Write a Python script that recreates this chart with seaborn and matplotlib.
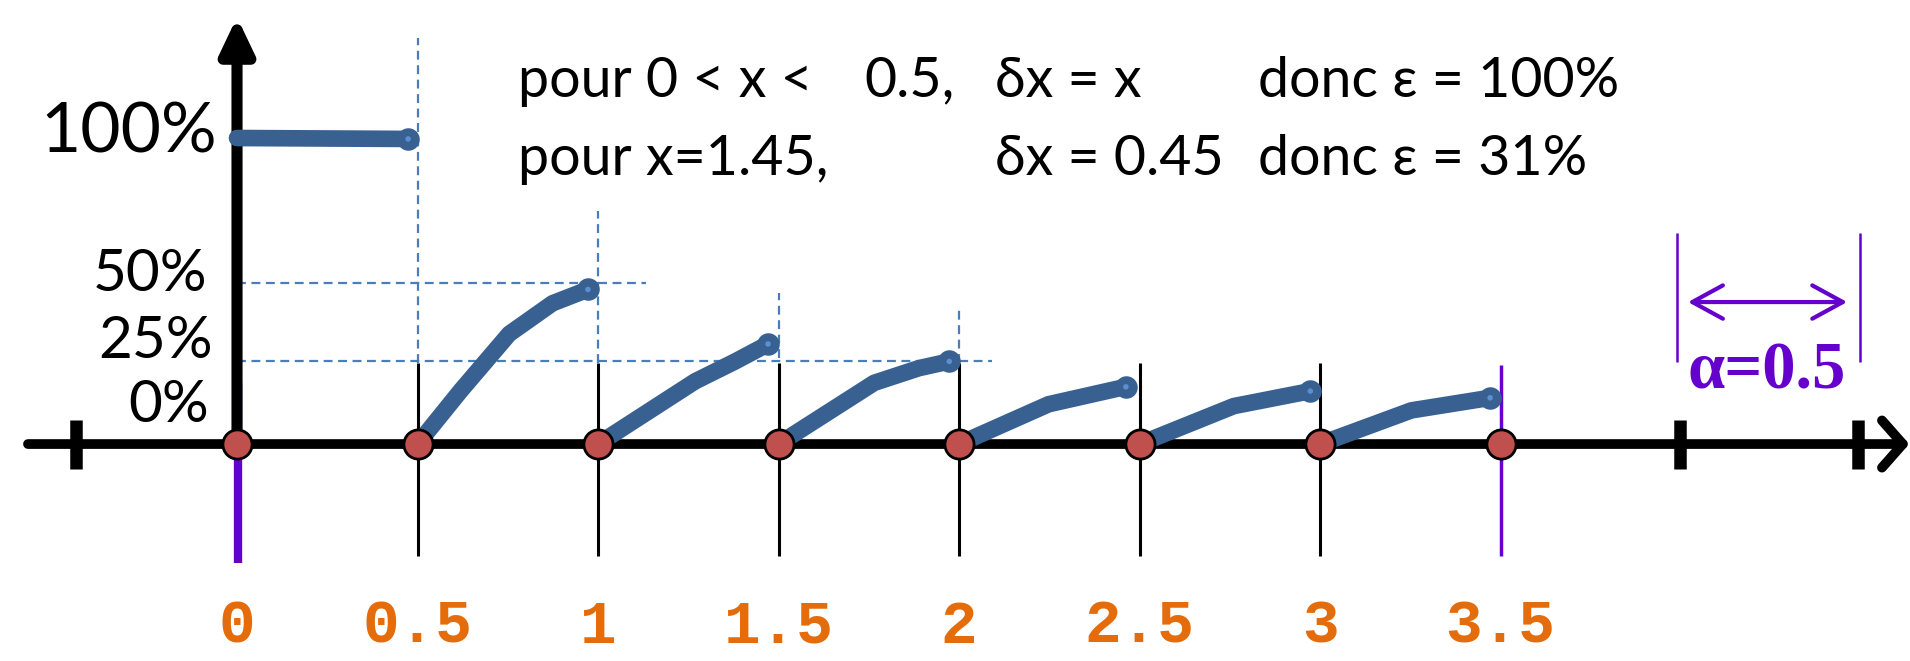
import numpy as np
import pandas as pd
import matplotlib
matplotlib.use("Agg")
import matplotlib.pyplot as plt
import seaborn as sns

# ---------------- data ----------------
point_x = [0, 0.5, 1, 1.5, 2, 2.5, 3, 3.5]
point_labels = ["0", "0.5", "1", "1.5", "2", "2.5", "3", "3.5"]

curve0_x = [0.0, 0.474]
curve0_y = [1.0, 0.997]
curve1_x = [0.5, 0.62, 0.754, 0.874, 0.972]
curve1_y = [0.0, 0.175, 0.36, 0.46, 0.505]
curve2_x = [1.0, 1.269, 1.38, 1.471]
curve2_y = [0.0, 0.205, 0.27, 0.327]
curve3_x = [1.5, 1.765, 1.889, 1.973]
curve3_y = [0.0, 0.20, 0.248, 0.27]
curve4_x = [2.0, 2.248, 2.462]
curve4_y = [0.0, 0.13, 0.187]
curve5_x = [2.5, 2.761, 2.973]
curve5_y = [0.0, 0.124, 0.173]
curve6_x = [3.0, 3.253, 3.471]
curve6_y = [0.0, 0.11, 0.151]

pct_labels = ["100%", "50%", "25%", "0%"]
pct_baselines = [0.954, 0.50, 0.281, 0.072]

guide_h_levels = [0.525, 0.272]
guide_h_ends = [1.133, 2.09]
guide_v_x = [0.5, 1.0, 1.5, 2.0]
guide_v_top = [1.327, 0.761, 0.493, 0.448]
guide_v_bottom = [0.265, 0.265, 0.28, 0.265]

line1_texts = ["pour 0 < x <", "0.5,", "δx = x", "donc ε = 100%"]
line2_texts = ["pour x=1.45,", "δx = 0.45", "donc ε = 31%"]
alpha_label = "α=0.5"

# ---------------- style ----------------
sns.set_style("white")
plt.rcParams["font.family"] = ["Lato", "DejaVu Sans"]

BLUE = "#386192"
DASH = "#4a7ebb"
RED = "#C0504D"
PURPLE = "#6600CC"
ORANGE = "#E46C0A"

fig = plt.figure(figsize=(19.10, 6.61), dpi=100)
ax = fig.add_axes([0, 0, 1, 1])
ax.set_xlim(-0.6565, 4.634)
ax.set_ylim(-0.709, 1.451)
ax.axis("off")

# dashed guide lines
for lvl, end in zip(guide_h_levels, guide_h_ends):
    ax.hlines(lvl, 0.0, end, color=DASH, lw=1.6, linestyle=(0, (4, 2.5)), zorder=1)
for gx, gt, gb in zip(guide_v_x, guide_v_top, guide_v_bottom):
    ax.vlines(gx, gb, gt, color=DASH, lw=1.6, linestyle=(0, (4, 2.5)), zorder=1)

# black thin verticals at grid points
ax.vlines(point_x[1:-1], -0.366, 0.265, color="black", lw=2.2, zorder=2)
# purple bounds
ax.vlines(point_x[0] + 0.004, -0.389, 0.2, color=PURPLE, lw=6, zorder=2)
ax.vlines(point_x[-1], -0.366, 0.258, color=PURPLE, lw=2.5, zorder=2)

# x axis with open arrow
ax.annotate("", xy=(4.632, 0), xytext=(-0.579, 0),
            arrowprops=dict(arrowstyle="->,head_length=1.5,head_width=1.7",
                            lw=7, color="black", shrinkA=0, shrinkB=0,
                            mutation_scale=10, capstyle="round", joinstyle="round"),
            zorder=3)
# cross ticks on x axis
for tx in [-0.446, 3.997, 4.49]:
    ax.vlines(tx, -0.08, 0.08, color="black", lw=9, zorder=3)

# y axis with filled arrow
ax.annotate("", xy=(0, 1.395), xytext=(0, 0),
            arrowprops=dict(arrowstyle="-|>,head_length=2.1,head_width=1.0",
                            lw=8, color="black", shrinkA=0, shrinkB=0,
                            mutation_scale=10),
            zorder=3)

# blue curves
curves = [(curve0_x, curve0_y), (curve1_x, curve1_y), (curve2_x, curve2_y),
          (curve3_x, curve3_y), (curve4_x, curve4_y), (curve5_x, curve5_y),
          (curve6_x, curve6_y)]
df = pd.concat([pd.DataFrame({"x": cx, "y": cy, "seg": i})
                for i, (cx, cy) in enumerate(curves)], ignore_index=True)
sns.lineplot(data=df, x="x", y="y", units="seg", estimator=None, sort=False,
             color=BLUE, lw=12, solid_capstyle="round", solid_joinstyle="round",
             ax=ax, legend=False, zorder=4)
ends = df.groupby("seg").last()
sns.scatterplot(x=ends["x"], y=ends["y"], s=15 ** 2, color=BLUE, edgecolor=BLUE,
                ax=ax, legend=False, zorder=5)
sns.scatterplot(x=ends["x"], y=ends["y"], s=4 ** 2, color="#5b8fd0", edgecolor="none",
                ax=ax, legend=False, zorder=5)

# red points
sns.scatterplot(x=point_x, y=[0] * len(point_x), s=21 ** 2, color=RED,
                edgecolor="black", linewidth=2, ax=ax, legend=False, zorder=6)

# percentage labels
pct_size = [50, 42, 42, 42]
pct_right = [-0.055, -0.083, -0.066, -0.078]
for lab, yb, fs, xr in zip(pct_labels, pct_baselines, pct_size, pct_right):
    ax.text(xr, yb, lab, ha="right", va="baseline", fontsize=fs, color="black")

# orange x labels
for px, lab in zip(point_x, point_labels):
    ax.text(px, -0.65, lab, ha="center", va="baseline", fontsize=44,
            family="Liberation Mono", fontweight="bold", color=ORANGE)

# header texts
line1_x = [0.778, 1.739, 2.10, 2.829]
for tx, t in zip(line1_x, line1_texts):
    ax.text(tx, 1.135, t, ha="left", va="baseline", fontsize=40, color="black")
line2_x = [0.778, 2.10, 2.829]
for tx, t in zip(line2_x, line2_texts):
    ax.text(tx, 0.88, t, ha="left", va="baseline", fontsize=40, color="black")

# alpha annotation
ax.vlines([3.989, 3.989 + 0.507], 0.268, 0.690, color=PURPLE, lw=1.8, zorder=2)
ax.annotate("", xy=(4.460, 0.464), xytext=(4.019, 0.464),
            arrowprops=dict(arrowstyle="<->,head_length=2.2,head_width=1.2",
                            lw=3, color=PURPLE, shrinkA=0, shrinkB=0,
                            mutation_scale=10, capstyle="round", joinstyle="round"))
ax.text(4.238, 0.183, alpha_label, ha="center", va="baseline", fontsize=48,
        family="Liberation Serif", fontweight="bold", color=PURPLE)

fig.savefig("out.png", dpi=100)
